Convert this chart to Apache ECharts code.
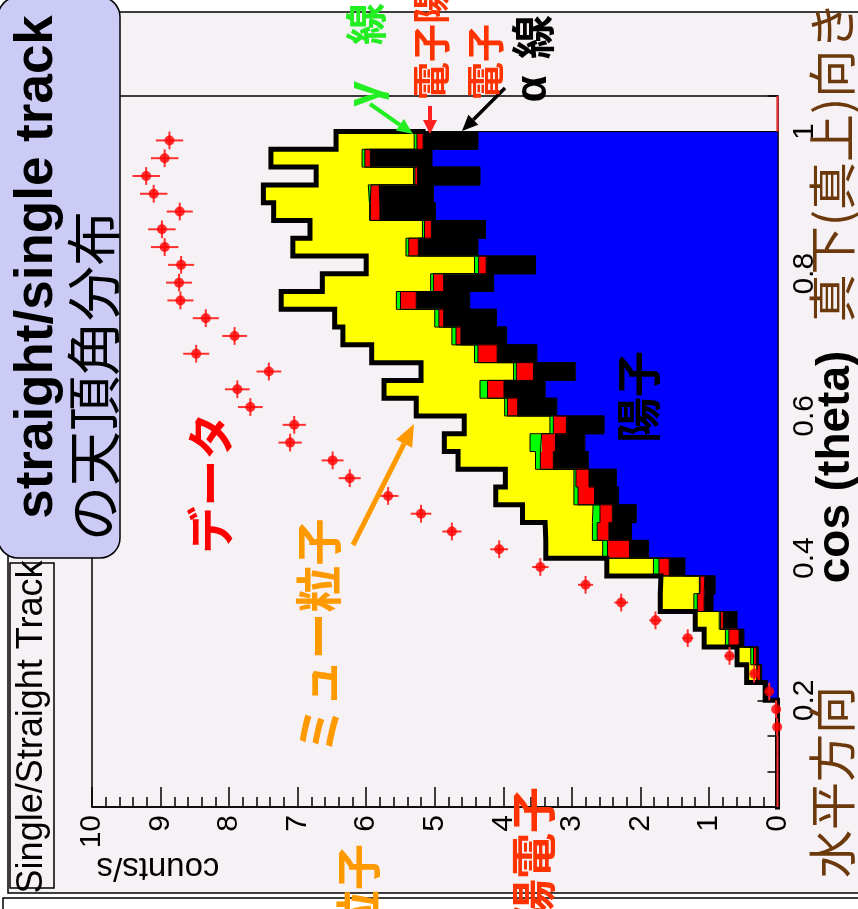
<!DOCTYPE html>
<html><head><meta charset="utf-8">
<script src="https://cdn.jsdelivr.net/npm/echarts@6/dist/echarts.min.js"></script>
<style>html,body{margin:0;padding:0;background:#fff}#c{width:858px;height:909px}</style>
</head><body><div id="c"></div>
<script>
// cos(theta) bin lower edges (bin width 0.025), 40 bins from 0.05 to 1.05
const cosLow = [0.05,0.075,0.1,0.125,0.15,0.175,0.2,0.225,0.25,0.275,0.3,0.325,0.35,0.375,0.4,0.425,0.45,0.475,0.5,0.525,0.55,0.575,0.6,0.625,0.65,0.675,0.7,0.725,0.75,0.775,0.8,0.825,0.85,0.875,0.9,0.925,0.95,0.975,1.0,1.025];
const binW = 0.025;
// stacked MC components (counts/s), bins 0.05 .. 1.0 (38 bins)
const proton   = [0,0,0,0,0,0,0.15,0.23,0.28,0.49,0.59,0.94,0.91,1.35,1.88,2.13,2.06,2.32,2.35,2.76,2.81,2.53,3.22,3.39,2.95,3.51,3.95,4.10,4.49,4.14,3.53,4.37,4.26,4.99,5.02,4.34,5.04,4.37];
const alpha    = [0,0,0,0,0,0,0.03,0.02,0.03,0.07,0.20,0.13,0.15,0.23,0.28,0.33,0.35,0.35,0.40,0.51,0.43,0.55,0.57,0.60,0.61,0.58,0.67,0.77,0.78,0.73,0.72,0.87,0.79,0.81,0.79,0.91,0.90,0.80];
const electron = [0,0,0,0,0,0,0,0.05,0.04,0.15,0.04,0.10,0.07,0.15,0.32,0.17,0.18,0.24,0.19,0.19,0.20,0.19,0.15,0.24,0.25,0.28,0.07,0.07,0.23,0.15,0.11,0.14,0.10,0.14,0.12,0.04,0.08,0.09];
const gamma    = [0,0,0,0,0,0,0,0,0.04,0.05,0.02,0.05,0.01,0.08,0.07,0.07,0.10,0.06,0.03,0.07,0.17,0.05,0.04,0.11,0.04,0.05,0.06,0.06,0.06,0.04,0.06,0.04,0.03,0.01,0.04,0.02,0.04,0.04];
const muon     = [0,0,0,0,0,0,0,0.15,0.20,0.31,0.35,0.49,0.56,0.68,0.83,0.69,1.03,1.14,1.00,1.13,1.25,1.25,1.29,1.40,1.35,1.50,1.59,1.46,1.68,1.58,1.58,1.65,1.64,1.40,1.53,1.42,1.33,1.14];
// measured data (counts/s) and errors, all 40 bins
const dataVal = [0,0,0,0,0.005,0.02,0.12,0.34,0.70,1.31,1.78,2.28,2.80,3.46,4.06,4.75,5.20,5.68,6.24,6.49,7.11,7.05,7.69,7.88,7.42,8.48,7.92,8.34,8.71,8.73,8.70,8.94,8.98,8.72,9.10,9.21,8.94,8.87,0,0];
const dataErr = [0,0,0,0,0.01,0.02,0.04,0.05,0.07,0.08,0.09,0.10,0.11,0.12,0.13,0.14,0.15,0.15,0.16,0.16,0.17,0.17,0.18,0.18,0.18,0.19,0.18,0.19,0.19,0.19,0.19,0.20,0.20,0.19,0.20,0.20,0.20,0.20,0,0];
// axis ticks
const cosMajor = [0.2,0.4,0.6,0.8,1.0];
const cosMinor = [0.1,0.15,0.25,0.3,0.35,0.45,0.5,0.55,0.65,0.7,0.75,0.85,0.9,0.95,1.05];

const nH = proton.length;
const comps = [proton, alpha, electron, gamma, muon];
const cum = [];
let run = new Array(nH).fill(0);
comps.forEach(c => { run = run.map((v,i)=>v + c[i]); cum.push(run.slice()); });
function stepPts(arr){
  const pts = [[0, cosLow[0]]];
  for (let i=0;i<nH;i++){ pts.push([arr[i], cosLow[i]]); pts.push([arr[i], cosLow[i]+binW]); }
  pts.push([0, cosLow[nH-1]+binW]);
  return pts;
}
const outline = stepPts(cum[4]).slice(0,-1);
outline.push([cum[1][nH-1], cosLow[nH-1]+binW]);

const colors = ['#0000ff','#000000','#ff0000','#00ff00','#ffff00'];
const names = ['陽子','α線','電子','γ線','ミュー粒子'];

const series = [];
comps.forEach((c,k)=>{
  series.push({type:'custom', name:names[k], xAxisIndex:0, yAxisIndex:0, z:2, clip:false, silent:true,
    data: c.map((v,i)=>[k===0?0:cum[k-1][i], cum[k][i], cosLow[i], cosLow[i]+binW]),
    renderItem:(params, api)=>{
      const a=api.coord([api.value(0), api.value(2)]), b=api.coord([api.value(1), api.value(3)]);
      const w=Math.abs(a[0]-b[0]);
      if (w<=0) return null;
      return {type:'rect', shape:{x:Math.min(a[0],b[0]), y:Math.min(a[1],b[1])-0.5, width:w, height:Math.abs(a[1]-b[1])+1},
        style:{fill:colors[k]}};
    }});
});
[0,1,2,3].forEach(k=>{
  series.push({type:'line', xAxisIndex:0, yAxisIndex:0, data:stepPts(cum[k]), showSymbol:false, symbol:'none', z:3,
    lineStyle:{color:'#000', width:1}, clip:false, silent:true});
});
series.push({type:'line', xAxisIndex:0, yAxisIndex:0, data:outline, showSymbol:false, symbol:'none', z:4,
  lineStyle:{color:'#000', width:5, join:'miter', cap:'square'}, clip:false, silent:true});
series.push({type:'custom', name:'データ', xAxisIndex:0, yAxisIndex:0, z:5, clip:false,
  data: dataVal.map((v,i)=>[v, cosLow[i]+binW/2, dataErr[i], cosLow[i], cosLow[i]+binW]),
  renderItem:(params, api)=>{
    const v=api.value(0), c=api.value(1), e=api.value(2), lo=api.value(3), hi=api.value(4);
    const a=api.coord([v+e,c]), b=api.coord([v-e,c]), t=api.coord([v,hi]), u=api.coord([v,lo]);
    return {type:'group', children:[
      {type:'line', shape:{x1:a[0],y1:a[1],x2:b[0],y2:b[1]}, style:{stroke:'#ff3030', lineWidth:2}},
      {type:'line', shape:{x1:t[0],y1:t[1],x2:u[0],y2:u[1]}, style:{stroke:'#ff3030', lineWidth:2}}
    ]};
  }});
series.push({type:'scatter', xAxisIndex:0, yAxisIndex:0, z:6, clip:false, symbol:'circle', symbolSize:10,
  itemStyle:{color:'#ff0000'},
  data: dataVal.map((v,i)=>[v, cosLow[i]+binW/2]).filter(p=>p[0]>0)});

function arrow(x1,y1,x2,y2,color,w,L,W){
  const dx=x2-x1, dy=y2-y1, len=Math.hypot(dx,dy), ux=dx/len, uy=dy/len, px=-uy, py=ux;
  const bx=x2-ux*L, by=y2-uy*L;
  return [
    {type:'line', z:120, shape:{x1:x1,y1:y1,x2:bx,y2:by}, style:{stroke:color, lineWidth:w}},
    {type:'polygon', z:120, shape:{points:[[x2,y2],[bx+px*W/2,by+py*W/2],[bx-px*W/2,by-py*W/2]]}, style:{fill:color}}
  ];
}
function vtext(t, cx, cy, font, color, rot){
  return {type:'text', x:cx, y:cy, rotation: rot===undefined?Math.PI/2:rot, z:130,
    style:{text:t, font:font, fill:color, align:'center', verticalAlign:'middle', textAlign:'center', textVerticalAlign:'middle'}};
}
const CJK = '"Noto Sans CJK JP"';
const LAT = '"Liberation Sans", Arial';
const brown = '#6b390b';

const graphic = [
  {type:'rect', z:1, shape:{x:0,y:0,width:858,height:12}, style:{fill:'#fff'}},
  {type:'rect', z:1, shape:{x:0,y:893,width:858,height:16}, style:{fill:'#fff'}},
  {type:'rect', z:1, shape:{x:0,y:0,width:8,height:909}, style:{fill:'#fff'}},
  {type:'polyline', z:110, shape:{points:[[858,12],[8,12],[8,893],[858,893]]}, style:{stroke:'#000', lineWidth:1.5, fill:null}},
  {type:'rect', z:110, shape:{x:3,y:898,width:860,height:30}, style:{fill:'#fff', stroke:'#000', lineWidth:1.5}},
  {type:'rect', z:110, shape:{x:10,y:563,width:44,height:325}, style:{fill:'#f6f1f4', stroke:'#000', lineWidth:1.5}},
  vtext('Single/Straight Track', 32, 727, '36px '+LAT, '#000'),
  {type:'rect', z:125, shape:{x:-2,y:-3,width:122,height:561,r:20}, style:{fill:'#cbcbf6', stroke:'#000', lineWidth:1.5}},
  vtext('straight/single track', 37, 267, 'bold 53px '+LAT, '#000'),
  vtext('の天頂角分布', 93, 376, '55px '+CJK, '#000'),
  vtext('counts/s', 158, 867, '33px '+LAT, '#000', Math.PI),
  vtext('cos (theta)', 836, 467, 'bold 46px '+LAT, '#000'),
  vtext('水平方向', 832, 782, '48px '+CJK, brown),
  vtext('真下(真上)向き', 832, 162, '48px '+CJK, brown),
  vtext('γ', 366, 94, 'bold 46px '+LAT, '#22ee22'),
  vtext('線', 366, 24, 'bold 42px '+CJK, '#22ee22'),
  vtext('電子陽', 431, 43, 'bold 38px '+CJK, '#ff3300'),
  vtext('電子', 485, 62, 'bold 38px '+CJK, '#ff3300'),
  vtext('α', 534, 89, 'bold 44px '+LAT, '#000'),
  vtext('線', 533, 37, 'bold 44px '+CJK, '#000'),
  vtext('陽子', 638, 397, 'bold 46px '+CJK, '#000'),
  vtext('ミュー粒子', 318, 636, 'bold 47px '+CJK, '#ff9900'),
  vtext('データ', 210, 483, 'bold 47px '+CJK, '#ff0000'),
  vtext('陽電子', 533, 856, 'bold 46px '+CJK, '#ff3300'),
  vtext('粒子', 358, 890, 'bold 46px '+CJK, '#ff9900'),
  ...arrow(370,104,413,134,'#22ee22',4,16,14),
  ...arrow(430,106,430,134,'#ff2020',4,14,14),
  ...arrow(505,88,462,131,'#000',3.5,16,14),
  ...arrow(353,545,414,424,'#ff9900',5,22,18)
];

const chart = echarts.init(document.getElementById('c'), null, {renderer:'canvas'});
chart.setOption({
  animation:false,
  backgroundColor:'#f6f1f4',
  grid:{left:92, right:80.5, top:96, bottom:102, show:true, borderColor:'#000', borderWidth:1.5, backgroundColor:'transparent', containLabel:false, outerBoundsMode:'none'},
  xAxis:[{type:'value', min:0, max:10, interval:1, inverse:true, position:'bottom',
    axisLine:{show:true, lineStyle:{color:'#000', width:1.5}},
    axisTick:{show:true, inside:true, length:20, lineStyle:{color:'#000', width:1.5}},
    minorTick:{show:true, splitNumber:5, length:10, lineStyle:{color:'#000', width:1.5}},
    axisLabel:{rotate:90, fontSize:30, color:'#000', fontFamily:'Liberation Sans', margin:8, showMinLabel:true, showMaxLabel:true},
    splitLine:{show:false}, minorSplitLine:{show:false}}],
  yAxis:[
    {type:'value', min:0.05, max:1.05, position:'right',
     axisLine:{show:true, onZero:false, lineStyle:{color:'#000', width:1.5}},
     axisTick:{show:true, inside:true, length:20, customValues:cosMajor, lineStyle:{color:'#000', width:1.5}},
     axisLabel:{rotate:90, fontSize:30, color:'#000', fontFamily:'Liberation Sans', margin:12, customValues:cosMajor,
       formatter:v=> (Math.abs(v-1)<1e-9 ? '1' : v.toFixed(1))},
     splitLine:{show:false}},
    {type:'value', min:0.05, max:1.05, position:'right',
     axisLine:{show:false}, axisLabel:{show:false},
     axisTick:{show:true, inside:true, length:10, customValues:cosMinor, lineStyle:{color:'#000', width:1.5}},
     splitLine:{show:false}}
  ],
  series:series,
  graphic:graphic
});
</script></body></html>
